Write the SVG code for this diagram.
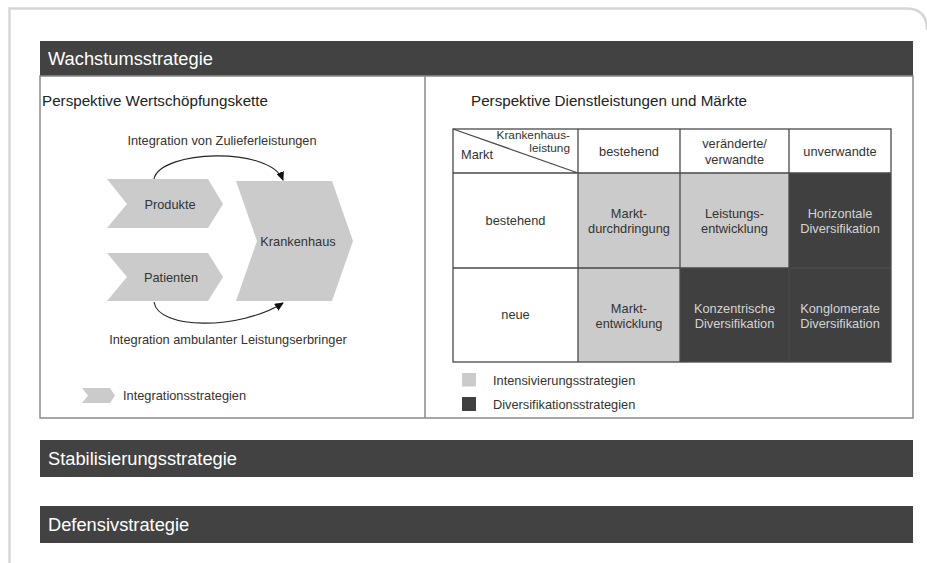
<svg xmlns="http://www.w3.org/2000/svg" width="927" height="563" viewBox="0 0 927 563">
<style>
text{font-family:"Liberation Sans",Arial,sans-serif;fill:#333}
.bar{fill:#424242}
.bt{font-size:18.3px;fill:#fff}
.h{font-size:15.2px;fill:#222}
.t{font-size:12.8px}
.s{font-size:11.8px}
.c{text-anchor:middle}
.e{text-anchor:end}
.w{fill:#d4d4d4}
.lg{fill:#cbcbcb}
.dk{fill:#404040}
.grid{fill:none;stroke:#4a4a4a;stroke-width:1.3}
.conn{fill:none;stroke:#222;stroke-width:1.1}
</style>
<defs>
<marker id="ah" markerUnits="userSpaceOnUse" markerWidth="9" markerHeight="8" refX="8" refY="4" orient="auto">
<path d="M0,0 L9,4 L0,8 Z" fill="#111"/>
</marker>
</defs>
<rect width="927" height="563" fill="#fff"/>
<path d="M9.5,563 V8.5 H906 Q927,8.5 927,30" fill="none" stroke="#d6d6d6" stroke-width="2.5"/>

<g id="wachstum-header">
<rect class="bar" x="40" y="41" width="873" height="35"/>
<text class="bt" x="48" y="64.5">Wachstumsstrategie</text>
</g>
<g id="wachstum-body">
<rect x="40" y="76" width="873" height="342" fill="none" stroke="#8a8a8a" stroke-width="1.5"/>
<line x1="425" y1="76" x2="425" y2="418" stroke="#8a8a8a" stroke-width="1.5"/>
<text class="h" x="42" y="106">Perspektive Wertschöpfungskette</text>
<text class="h" x="471" y="106">Perspektive Dienstleistungen und Märkte</text>
</g>

<g id="produkte">
<path class="lg" d="M107,179 L208,179 L223,204 L208,228 L107,228 L127,204 Z"/>
<text class="t c" x="170" y="208.5">Produkte</text>
</g>
<g id="patienten">
<path class="lg" d="M107,253 L208,253 L223,277 L208,301 L107,301 L127,277 Z"/>
<text class="t c" x="171" y="281.5">Patienten</text>
</g>
<g id="krankenhaus">
<path class="lg" d="M236,181 L332,181 L353,241 L332,301 L236,301 L257,241 Z"/>
<text class="t c" x="298" y="246">Krankenhaus</text>
</g>

<g id="connectors">
<path class="conn" d="M154,179 C160,150 270,146 283,180" marker-end="url(#ah)"/>
<path class="conn" d="M154,302 C158,330 240,330 283,303" marker-end="url(#ah)"/>
</g>
<g id="connector-labels">
<text class="t c" x="222" y="145">Integration von Zulieferleistungen</text>
<text class="t c" x="228" y="344">Integration ambulanter Leistungserbringer</text>
</g>

<g id="legend-left">
<path class="lg" d="M82,388 L110,388 L115,395.5 L110,403 L82,403 L88,395.5 Z"/>
<text class="t" x="123" y="400">Integrationsstrategien</text>
</g>

<g id="matrix">
<rect class="lg" x="578" y="173" width="211" height="95"/>
<rect class="lg" x="578" y="268" width="102" height="94"/>
<rect class="dk" x="789" y="173" width="102" height="95"/>
<rect class="dk" x="680" y="268" width="211" height="94"/>
<rect class="grid" x="453" y="129" width="438" height="233"/>
<path class="grid" d="M578,129 V362 M680,129 V362 M789,129 V362 M453,173 H891 M453,268 H891 M453,129 L578,173"/>
<text class="s e" x="570" y="138.5">Krankenhaus-</text>
<text class="s e" x="570" y="151.5">leistung</text>
<text class="t" x="461" y="158.5">Markt</text>
<text class="t c" x="629" y="155.5">bestehend</text>
<text class="t c" x="734.5" y="147.5">veränderte/</text>
<text class="t c" x="734.5" y="163.5">verwandte</text>
<text class="t c" x="840" y="155.5">unverwandte</text>
<text class="t c" x="515.5" y="225">bestehend</text>
<text class="t c" x="629" y="217.5">Markt-</text>
<text class="t c" x="629" y="233">durchdringung</text>
<text class="t c" x="734.5" y="217.5">Leistungs-</text>
<text class="t c" x="734.5" y="233">entwicklung</text>
<text class="t c w" x="840" y="217.5">Horizontale</text>
<text class="t c w" x="840" y="233">Diversifikation</text>
<text class="t c" x="515.5" y="319">neue</text>
<text class="t c" x="629" y="312.5">Markt-</text>
<text class="t c" x="629" y="328">entwicklung</text>
<text class="t c w" x="734.5" y="312.5">Konzentrische</text>
<text class="t c w" x="734.5" y="328">Diversifikation</text>
<text class="t c w" x="840" y="312.5">Konglomerate</text>
<text class="t c w" x="840" y="328">Diversifikation</text>
</g>

<g id="legend-right">
<rect class="lg" x="462" y="373" width="14" height="13.5"/>
<text class="t" x="493" y="384.5">Intensivierungsstrategien</text>
<rect class="dk" x="462" y="397" width="14" height="14"/>
<text class="t" x="493" y="408.5">Diversifikationsstrategien</text>
</g>

<g id="stabilisierung">
<rect class="bar" x="40" y="440" width="873" height="37"/>
<text class="bt" x="48" y="465">Stabilisierungsstrategie</text>
</g>
<g id="defensiv">
<rect class="bar" x="40" y="506" width="873" height="37"/>
<text class="bt" x="48" y="531">Defensivstrategie</text>
</g>
</svg>
